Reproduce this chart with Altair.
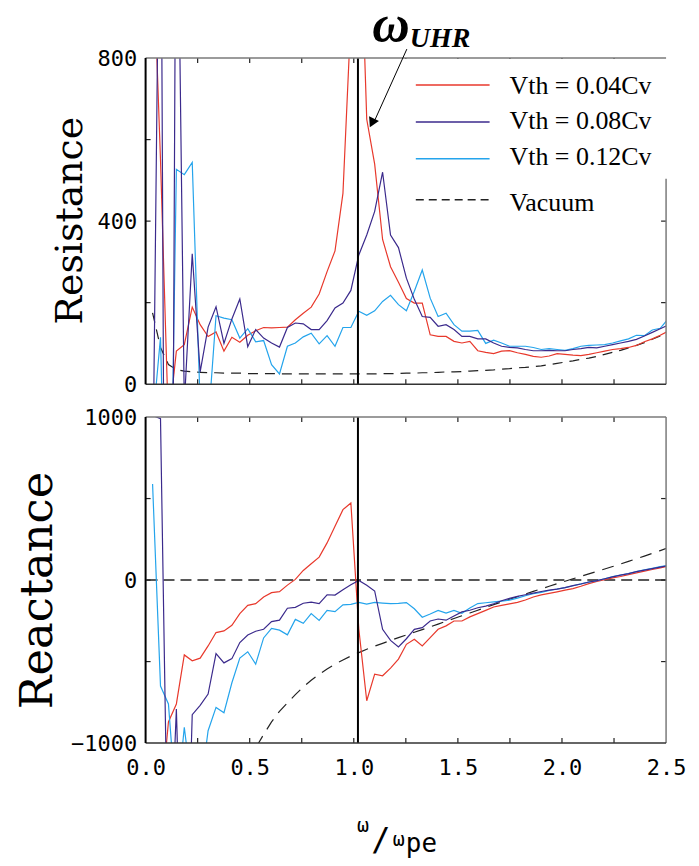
import altair as alt
import pandas as pd

# ---------------- data ----------------
X = [0.0335, 0.0716, 0.1097, 0.1478, 0.1859, 0.2240, 0.2621, 0.3002, 0.3383, 0.3764,
     0.4145, 0.4526, 0.4907, 0.5288, 0.5669, 0.6050, 0.6431, 0.6812, 0.7193, 0.7574,
     0.7955, 0.8336, 0.8717, 0.9098, 0.9479, 0.9860, 1.0241, 1.0622, 1.1003, 1.1384,
     1.1765, 1.2146, 1.2527, 1.2908, 1.3289, 1.3670, 1.4051, 1.4432, 1.4813, 1.5194,
     1.5575, 1.5956, 1.6337, 1.6718, 1.7099, 1.7480, 1.7861, 1.8242, 1.8623, 1.9004,
     1.9385, 1.9766, 2.0147, 2.0528, 2.0909, 2.1290, 2.1671, 2.2052, 2.2433, 2.2814,
     2.3195, 2.3576, 2.3957, 2.4338, 2.4719, 2.5100]

R_04 = [1100, 550, -100, 81, 97, 189, 146, 117, 128, 81,
        115, 103, 120, 131, 139, 138, 139, 140, 158, 174,
        189, 221, 276, 327, 468, 900, 1250, 650, 540, 355,
        288, 250, 210, 199, 199, 121, 117, 117, 105, 101,
        105, 82, 78, 75, 81, 82, 77, 73, 68, 66,
        69, 75, 73, 71, 70, 73, 77, 81, 85, 87,
        90, 95, 104, 111, 120, 130]
R_08 = [-300, 1500, -2500, 1500, -50, 320, 30, 140, 190, 100,
        160, 209, 92, 134, 113, 101, 91, 139, 150, 148,
        134, 134, 156, 187, 199, 230, 317, 366, 424, 520,
        366, 335, 260, 208, 166, 164, 142, 146, 134, 117,
        117, 111, 111, 101, 93, 90, 89, 85, 82, 82,
        83, 82, 82, 85, 87, 90, 89, 93, 97, 101,
        105, 110, 118, 127, 136, 145]
R_12 = [-100, 115, -700, 527, 514, 544, -50, -100, 168, 162,
        158, 113, 136, 104, 107, 48, 25, 93, 101, 116,
        125, 99, 119, 93, 139, 139, 179, 169, 180, 203,
        218, 195, 180, 228, 280, 211, 166, 174, 146, 130,
        130, 132, 100, 108, 101, 93, 93, 93, 90, 85,
        87, 85, 83, 87, 93, 95, 96, 97, 101, 106,
        111, 120, 119, 133, 137, 160]
R_VAC = [175, 90, 48, 36, 32, 30, 29, 28, 28, 27,
         27, 27, 26, 26, 26, 26, 25, 25, 25, 25,
         25, 25, 25, 25, 25, 25, 25, 25, 25, 26,
         26, 26, 27, 27, 28, 28, 29, 30, 30, 31,
         32, 33, 34, 35, 37, 38, 40, 41, 43, 45,
         48, 51, 54, 57, 61, 64, 68, 73, 78, 83,
         89, 95, 102, 110, 118, 127]

X_04 = [-1800, -1400, -870, -760, -459, -495, -479, -404, -322, -312,
        -277, -206, -155, -145, -104, -77, -71, -31, 4, 59,
        100, 141, 228, 330, 432, 473, -300, -740, -577, -587,
        -540, -485, -394, -363, -404, -353, -302, -281, -251, -251,
        -226, -206, -186, -165, -155, -146, -137, -122, -104, -91,
        -82, -72, -62, -52, -38, -22, -8, 3, 13, 22,
        33, 44, 55, 65, 75, 85]
X_08 = [1010, 990, -2000, -791, -2500, -826, -768, -699, -451, -508,
        -482, -383, -337, -314, -302, -255, -246, -173, -167, -142,
        -135, -144, -90, -92, -60, -29, -2, -32, -67, -302,
        -370, -410, -360, -302, -292, -251, -239, -246, -220, -195,
        -185, -170, -160, -145, -127, -112, -100, -90, -80, -70,
        -62, -55, -46, -34, -24, -12, -3, 8, 20, 30,
        40, 52, 61, 70, 79, 88]
X_12 = [589, -650, -760, -1400, -903, -1300, -1300, -924, -781, -814,
        -630, -479, -440, -516, -355, -297, -307, -336, -241, -265,
        -206, -247, -186, -194, -152, -149, -137, -147, -137, -141,
        -144, -143, -138, -176, -228, -208, -186, -203, -186, -204,
        -171, -144, -139, -134, -129, -123, -111, -96, -84, -75,
        -64, -55, -46, -35, -23, -13, -4, 8, 22, 31,
        40, 52, 63, 72, 82, 90]
X_VAC = [None, None, None, None, None, None, None, None, None, None,
         None, None, -1130, -1030, -947, -870, -805, -753, -703, -656,
         -615, -578, -545, -516, -490, -466, -445, -424, -405, -388,
         -370, -353, -337, -320, -304, -287, -270, -253, -236, -219,
         -202, -185, -168, -151, -135, -118, -102, -86, -69, -54,
         -38, -22, -7, 8, 23, 38, 53, 68, 83, 99,
         115, 131, 147, 164, 181, 198]

UHR = [1.02]
X_LABELS = [0.0, 0.5, 1.0, 1.5, 2.0, 2.5]
X_TICKS = [0.25, 0.5, 0.75, 1.0, 1.25, 1.5, 1.75, 2.0, 2.25]
R_LABELS = [0, 400, 800]
R_TICKS = [200, 400, 600]
X_LAB2 = [-1000, 0, 1000]
X_TICKS2 = [-500, 0, 500]
LEGEND = ["Vth = 0.04Cv", "Vth = 0.08Cv", "Vth = 0.12Cv", "Vacuum"]

# ---------------- styling ----------------
W, H = 522, 327
RED, PURPLE, BLUE = "#e8392c", "#3b2a8c", "#24a4ec"
MONO = "DejaVu Sans Mono"
SERIF = "DejaVu Serif"
TIMES = "Liberation Serif"

xs = alt.Scale(domain=[0, 2.5], nice=False, zero=False)
ys1 = alt.Scale(domain=[0, 800], nice=False, zero=False)
ys2 = alt.Scale(domain=[-1000, 1000], nice=False, zero=False)

one = pd.DataFrame({"_": [0]})

lab = dict(ticks=False, tickSize=0, domain=False, grid=False, labelFlush=False,
           labelOverlap=False, labelFont=MONO, labelFontSize=22, labelColor="black", title=None)
x_axis_bot = alt.Axis(values=X_LABELS, format=".1f", labelPadding=15, **lab)
y_axis_top = alt.Axis(values=R_LABELS, format="d", labelPadding=9, **lab)
y_axis_bot = alt.Axis(values=X_LAB2, format="d", labelPadding=9, **lab)


def sdf(vals):
    d = pd.DataFrame({"x": X, "v": pd.to_numeric(pd.Series(vals), errors="coerce")})
    return d.dropna()


def line(vals, color, ys, xa, ya, dash=None, width=1.2):
    kw = dict(clip=True, color=color, strokeWidth=width)
    if dash:
        kw["strokeDash"] = dash
    return alt.Chart(sdf(vals)).mark_line(**kw).encode(
        x=alt.X("x:Q", scale=xs, axis=xa, title=None),
        y=alt.Y("v:Q", scale=ys, axis=ya, title=None),
    )


def vline(xa):
    return alt.Chart(pd.DataFrame({"x": UHR})).mark_rule(color="black", strokeWidth=2).encode(
        x=alt.X("x:Q", scale=xs, axis=xa, title=None))


def xticks(xa):
    d = pd.DataFrame({"t": X_TICKS})
    base = alt.Chart(d).mark_rule(color="#222", strokeWidth=1.2)
    return [base.encode(x=alt.X("t:Q", scale=xs, axis=xa, title=None), y=alt.value(H), y2=alt.value(H - 5)),
            base.encode(x=alt.X("t:Q", scale=xs, axis=xa, title=None), y=alt.value(0), y2=alt.value(5))]


def yticks(vals, ys, ya):
    d = pd.DataFrame({"t": vals})
    base = alt.Chart(d).mark_rule(color="#222", strokeWidth=1.2)
    return [base.encode(y=alt.Y("t:Q", scale=ys, axis=ya, title=None), x=alt.value(0), x2=alt.value(5)),
            base.encode(y=alt.Y("t:Q", scale=ys, axis=ya, title=None), x=alt.value(W), x2=alt.value(W - 5))]


def hrule(y, x1, x2, color, w):
    return alt.Chart(one).mark_rule(color=color, strokeWidth=w).encode(
        x=alt.value(x1), x2=alt.value(x2), y=alt.value(y))


def vrule(x, y1, y2, color, w):
    return alt.Chart(one).mark_rule(color=color, strokeWidth=w).encode(
        x=alt.value(x), y=alt.value(y1), y2=alt.value(y2))


def txt(s, x, y, size, font, align="center", baseline="alphabetic", angle=0, style=None, weight=None):
    kw = dict(text=s, font=font, fontSize=size, align=align, baseline=baseline, color="black")
    if angle:
        kw["angle"] = angle
    if style:
        kw["fontStyle"] = style
    if weight:
        kw["fontWeight"] = weight
    return alt.Chart(one).mark_text(**kw).encode(x=alt.value(x), y=alt.value(y))


def frame(right_top):
    return [hrule(0, 0, W, "#7a7a7a", 1.5),
            vrule(W, right_top, H, "#7a7a7a", 1.5),
            hrule(H, 0, W, "#333", 1.5),
            vrule(0, 0, H, "black", 2)]


# ---------------- top panel: resistance ----------------
top_layers = [
    line(R_VAC, "#222", ys1, None, y_axis_top, dash=[10, 7], width=1.2),
    line(R_04, RED, ys1, None, y_axis_top),
    line(R_12, BLUE, ys1, None, y_axis_top),
    line(R_08, PURPLE, ys1, None, y_axis_top),
    vline(None),
]
top_layers += xticks(None) + yticks(R_TICKS, ys1, y_axis_top)

# legend box
top_layers.append(alt.Chart(one).mark_rect(color="white").encode(
    x=alt.value(250), x2=alt.value(540), y=alt.value(1), y2=alt.value(121)))
leg_line_y = [27, 64, 101, 142]
leg_text_y = [28, 63, 99, 145]
leg_cols = [RED, PURPLE, BLUE, "#222"]
for i, name in enumerate(LEGEND):
    kw = dict(color=leg_cols[i], strokeWidth=1.5)
    if name == "Vacuum":
        kw["strokeDash"] = [8, 5]
    top_layers.append(alt.Chart(one).mark_rule(**kw).encode(
        x=alt.value(271), x2=alt.value(345), y=alt.value(leg_line_y[i])))
    top_layers.append(txt(name, 365, leg_text_y[i], 26, TIMES, align="left", baseline="middle"))

top_layers += frame(121)

# annotation omega_UHR with arrow
top_layers.append(txt("ω", 246, -17, 52, TIMES, style="italic", weight="bold"))
top_layers.append(txt("UHR", 265, -11, 28, TIMES, align="left", style="italic", weight="bold"))
top_layers.append(alt.Chart(one).mark_rule(color="black", strokeWidth=1).encode(
    x=alt.value(262), y=alt.value(-9), x2=alt.value(230), y2=alt.value(62)))
top_layers.append(alt.Chart(one).mark_point(shape="triangle-up", filled=True, size=120, angle=206,
                                            color="black", opacity=1).encode(
    x=alt.value(227), y=alt.value(65)))
# y title
top_layers.append(txt("Resistance", -75, 163, 38, SERIF, baseline="middle", angle=270))

top = alt.layer(*top_layers).properties(width=W, height=H)

# ---------------- bottom panel: reactance ----------------
bot_layers = [
    alt.Chart(pd.DataFrame({"v": [0]})).mark_rule(color="#222", strokeWidth=1.5, strokeDash=[11, 6]).encode(
        y=alt.Y("v:Q", scale=ys2, axis=y_axis_bot, title=None)),
    line(X_VAC, "#222", ys2, x_axis_bot, y_axis_bot, dash=[12, 8], width=1.2),
    line(X_04, RED, ys2, x_axis_bot, y_axis_bot),
    line(X_12, BLUE, ys2, x_axis_bot, y_axis_bot),
    line(X_08, PURPLE, ys2, x_axis_bot, y_axis_bot),
    vline(x_axis_bot),
]
bot_layers += xticks(x_axis_bot) + yticks(X_TICKS2, ys2, y_axis_bot)
bot_layers += frame(0)
bot_layers.append(txt("Reactance", -108, 174, 45, SERIF, baseline="middle", angle=270))
# x title  omega / omega_pe
bot_layers.append(txt("ω", 218, 416, 20, MONO))
bot_layers.append(txt("/", 236, 434, 32, MONO))
bot_layers.append(txt("ω", 254, 430, 20, MONO))
bot_layers.append(txt("pe", 261, 436, 26, MONO, align="left"))

bot = alt.layer(*bot_layers).properties(width=W, height=H)

chart = alt.vconcat(top, bot, spacing=33, bounds="flush").properties(
    padding={"left": 8, "top": -10, "right": 5, "bottom": 0}
).configure_view(stroke=None)

chart.save("out.html", embed_options={"renderer": "svg", "actions": False})
